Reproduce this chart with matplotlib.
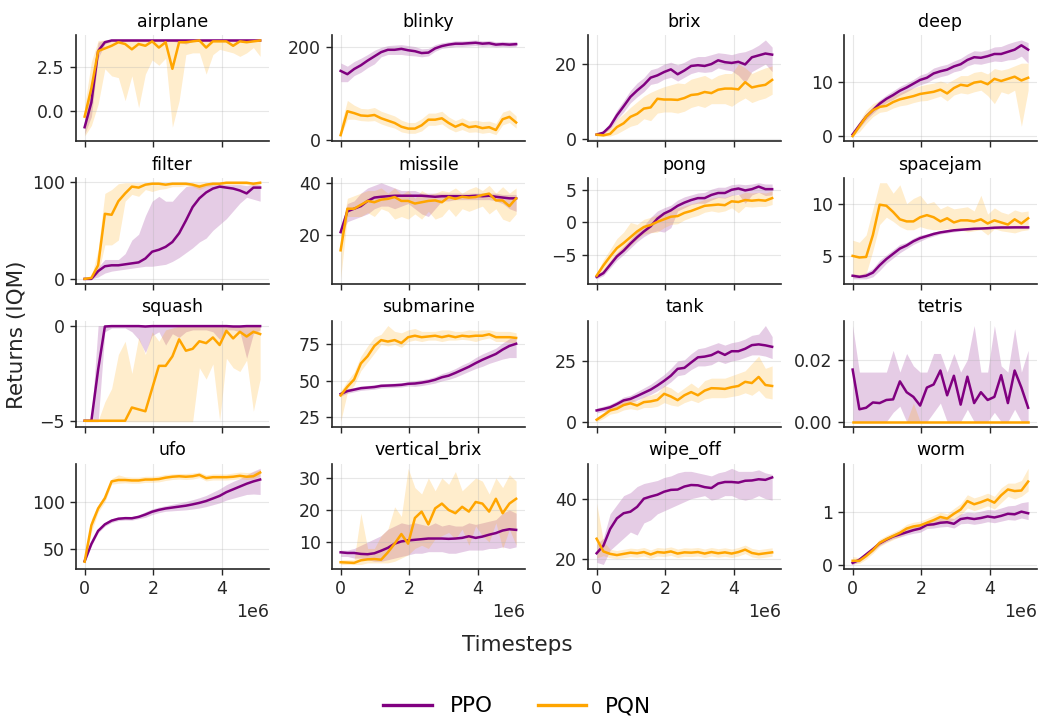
"""IQM returns of PPO vs PQN on the 16 MinAtar-style games"""
import numpy as np
import matplotlib
matplotlib.use("Agg")
import matplotlib.pyplot as plt
from matplotlib.ticker import MaxNLocator

# Evaluation points (same for every game)
timesteps = np.linspace(0, 5.12e6, 27)

games = ["airplane", "blinky", "brix", "deep",
         "filter", "missile", "pong", "spacejam",
         "squash", "submarine", "tank", "tetris",
         "ufo", "vertical_brix", "wipe_off", "worm"]

# ---- airplane
airplane_ppo = [-0.9, 0.5, 3.4, 3.9, 4.0, 4.0, 4.0, 4.0, 4.0, 4.0, 4.0, 4.0, 4.0, 4.0, 4.0, 4.0, 4.0, 4.0, 4.0, 4.0, 4.0, 4.0, 4.0, 4.0, 4.0, 4.0, 4.0]
airplane_ppo_lo = [-1.3, -0.3, 3.0, 3.8, 3.95, 3.95, 3.95, 3.95, 3.95, 3.95, 3.95, 3.95, 3.95, 3.95, 3.9, 3.8, 3.95, 3.95, 3.95, 3.95, 3.95, 3.95, 3.95, 3.95, 3.95, 3.95, 3.95]
airplane_ppo_hi = [-0.5, 1.5, 3.9, 4.02, 4.03, 4.03, 4.03, 4.03, 4.03, 4.03, 4.03, 4.03, 4.03, 4.03, 4.03, 4.03, 4.03, 4.03, 4.03, 4.03, 4.03, 4.03, 4.03, 4.03, 4.03, 4.03, 4.03]
airplane_pqn = [-0.3, 1.3, 3.4, 3.55, 3.7, 3.9, 3.8, 3.5, 3.8, 3.7, 3.95, 3.6, 3.9, 2.4, 3.9, 3.9, 3.95, 4.0, 3.6, 3.95, 3.95, 3.95, 3.7, 3.95, 3.9, 3.95, 4.0]
airplane_pqn_lo = [-1.4, -0.8, 0.4, 2.4, 2.0, 1.9, 0.6, 2.0, 0.2, 2.1, 2.9, 2.6, 3.0, -0.9, 0.6, 3.2, 3.3, 3.3, 2.1, 3.2, 3.5, 3.4, 3.3, 3.1, 3.3, 3.6, 3.1]
airplane_pqn_hi = [0.3, 2.8, 4.0, 4.02, 4.02, 4.02, 4.02, 4.02, 4.02, 4.02, 4.02, 4.02, 4.02, 4.02, 4.02, 4.02, 4.02, 4.02, 4.02, 4.02, 4.02, 4.02, 4.02, 4.02, 4.02, 4.02, 4.02]

# ---- blinky
blinky_ppo = [148, 141, 152, 160, 170, 179, 188, 193, 193, 195, 192, 190, 186, 187, 196, 201, 204, 206, 206, 207, 208, 206, 207, 204, 205, 204, 205]
blinky_ppo_lo = [125, 125, 138, 145, 155, 163, 178, 183, 183, 183, 181, 180, 178, 180, 190, 196, 198, 200, 200, 201, 202, 200, 201, 199, 200, 199, 200]
blinky_ppo_hi = [165, 158, 168, 175, 183, 192, 198, 202, 203, 204, 202, 200, 195, 196, 204, 208, 210, 212, 212, 213, 214, 212, 213, 210, 211, 210, 211]
blinky_pqn = [11, 62, 58, 53, 52, 54, 47, 42, 37, 29, 25, 25, 32, 44, 44, 47, 37, 29, 35, 28, 30, 26, 28, 22, 45, 50, 38]
blinky_pqn_lo = [9, 45, 45, 42, 41, 42, 35, 30, 26, 18, 15, 15, 20, 32, 32, 35, 25, 18, 23, 17, 18, 15, 17, 12, 33, 38, 26]
blinky_pqn_hi = [30, 85, 75, 68, 67, 70, 62, 57, 52, 43, 38, 38, 46, 58, 58, 62, 50, 42, 48, 41, 43, 40, 41, 36, 60, 65, 52]

# ---- brix
brix_ppo = [1.3, 1.8, 3.5, 6.4, 8.8, 11.3, 13.0, 14.5, 16.4, 17.0, 17.9, 18.6, 17.3, 18.3, 19.5, 19.7, 19.5, 20.0, 21.0, 20.5, 20.3, 20.6, 19.9, 21.8, 22.3, 22.8, 22.5]
brix_ppo_lo = [1.0, 1.5, 2.8, 5.3, 7.3, 9.7, 11.3, 12.7, 14.6, 15.0, 16.0, 16.5, 15.5, 16.5, 17.5, 18.0, 17.8, 18.0, 19.0, 18.5, 18.2, 17.0, 15.0, 18.0, 19.0, 20.0, 18.0]
brix_ppo_hi = [1.6, 2.3, 4.5, 7.8, 10.3, 13.0, 15.0, 16.4, 18.5, 19.0, 20.0, 20.5, 19.8, 20.5, 21.5, 22.0, 22.0, 22.5, 23.0, 22.8, 22.5, 23.0, 23.3, 24.0, 25.0, 26.4, 24.5]
brix_pqn = [1.3, 1.1, 1.5, 3.3, 4.3, 6.0, 6.8, 8.2, 8.5, 10.8, 10.6, 10.6, 10.5, 11.0, 11.8, 12.0, 12.6, 12.3, 13.2, 13.5, 13.5, 13.3, 15.2, 13.8, 14.2, 14.5, 15.8]
brix_pqn_lo = [0.9, 0.9, 0.9, 1.5, 2.5, 3.5, 4.0, 5.5, 5.0, 7.0, 7.3, 7.3, 7.0, 7.5, 8.5, 9.0, 8.5, 9.5, 9.5, 9.5, 8.8, 10.0, 11.0, 9.8, 10.5, 11.0, 12.0]
brix_pqn_hi = [1.8, 2.3, 3.0, 5.3, 6.8, 8.5, 10.0, 11.5, 12.5, 13.3, 14.0, 14.5, 15.0, 14.8, 16.0, 16.5, 17.0, 16.0, 17.0, 17.5, 17.5, 20.0, 19.0, 17.5, 18.3, 19.0, 19.5]

# ---- deep
deep_ppo = [0.3, 2.0, 3.6, 4.8, 6.0, 6.9, 7.6, 8.4, 9.0, 9.7, 10.4, 10.8, 11.6, 12.0, 12.3, 12.9, 13.3, 14.1, 14.6, 14.5, 14.8, 15.2, 15.2, 15.6, 16.0, 16.8, 16.0]
deep_ppo_lo = [0.1, 1.5, 3.0, 4.2, 5.3, 6.2, 6.8, 7.6, 8.2, 8.9, 9.5, 9.9, 10.6, 11.0, 11.3, 11.9, 12.2, 13.0, 13.4, 13.3, 13.6, 13.9, 13.8, 14.1, 14.2, 14.8, 13.5]
deep_ppo_hi = [0.7, 2.5, 4.2, 5.4, 6.7, 7.6, 8.4, 9.2, 9.8, 10.5, 11.3, 11.7, 12.6, 13.0, 13.3, 13.9, 14.4, 15.2, 15.8, 15.7, 16.0, 16.5, 16.6, 17.1, 17.5, 17.8, 17.3]
deep_pqn = [0.0, 1.8, 3.6, 4.8, 5.4, 5.6, 6.3, 6.8, 7.1, 7.4, 7.8, 8.0, 8.2, 8.6, 7.9, 8.9, 9.5, 9.3, 9.9, 10.1, 9.6, 10.6, 10.2, 10.6, 11.0, 10.3, 10.8]
deep_pqn_lo = [0.0, 0.8, 2.3, 3.6, 4.4, 4.6, 5.2, 5.6, 5.8, 6.2, 6.5, 6.6, 7.0, 7.4, 6.5, 7.6, 8.0, 7.8, 8.2, 8.5, 7.5, 6.0, 8.2, 7.8, 8.5, 1.8, 8.5]
deep_pqn_hi = [0.6, 2.8, 4.8, 6.0, 6.6, 6.8, 7.5, 8.0, 8.6, 8.9, 9.3, 9.6, 9.8, 10.2, 9.8, 10.5, 11.2, 11.2, 11.8, 12.0, 11.5, 12.5, 12.2, 12.5, 13.0, 13.5, 13.5]

# ---- filter
filter_ppo = [0, 0, 8, 13, 14, 14, 15, 16, 17, 21, 28, 30, 33, 38, 47, 60, 74, 83, 89, 93, 95, 94, 93, 91, 88, 94, 94]
filter_ppo_lo = [0, 0, 2, 6, 8, 9, 10, 11, 12, 13, 13, 14, 15, 18, 22, 27, 32, 38, 42, 50, 56, 62, 70, 78, 84, 82, 80]
filter_ppo_hi = [1, 2, 12, 20, 20, 20, 26, 40, 46, 65, 80, 85, 80, 80, 88, 95, 96, 97, 97, 97, 97, 97, 97, 97, 96, 97, 97]
filter_pqn = [0, 1, 14, 67, 66, 80, 88, 95, 94, 97, 98, 98, 97, 98, 98, 98, 97, 95, 97, 98, 98, 99, 99, 99, 99, 98, 99]
filter_pqn_lo = [0, 0, 5, 35, 35, 40, 80, 87, 85, 92, 90, 92, 93, 95, 95, 96, 95, 92, 95, 96, 96, 97, 97, 97, 97, 96, 97]
filter_pqn_hi = [1, 2, 30, 88, 92, 98, 99, 99, 99, 99, 99, 99, 99, 99, 99, 99, 99, 99, 99, 99, 99, 99, 99, 99, 99, 99, 99]

# ---- missile
missile_ppo = [21, 29, 30, 31, 33, 34.3, 34.6, 34.8, 35, 35, 35, 35, 35, 34.8, 34.6, 34.8, 34.8, 34.8, 34.8, 34.8, 35, 34.8, 35, 34.6, 34.3, 34, 34]
missile_ppo_lo = [20, 25, 26, 27, 28, 30, 31, 31, 30, 31, 32, 30, 28, 27, 30, 33, 33, 33.5, 33.5, 33.5, 33.5, 33.5, 33.5, 33, 32, 30, 29]
missile_ppo_hi = [23, 32, 33, 36, 38, 39, 40, 39, 38, 37, 37, 37, 36, 36, 36, 36, 36, 36, 36, 36, 36, 36, 36, 36, 35.5, 35.5, 35.5]
missile_pqn = [14, 30, 30, 31.5, 33, 32.5, 33.5, 33.8, 34.5, 33, 33, 32, 32.5, 33, 33.2, 32.5, 34.5, 33.8, 34.6, 34.3, 34.5, 35.3, 35.8, 33.2, 33.2, 31, 34]
missile_pqn_lo = [3, 27, 27, 27, 28.5, 27, 30, 29, 26, 27, 26, 28, 26, 29, 26, 27, 30, 27, 30, 29, 30, 31, 28, 30, 26, 25, 28]
missile_pqn_hi = [20, 34, 35, 36, 37, 37, 38, 36, 38, 35.5, 37, 34, 37, 35.5, 36, 37, 36.5, 38, 36, 37.5, 38.5, 37, 39, 36, 38.5, 36, 38]

# ---- pong
pong_ppo = [-8.5, -7.9, -6.6, -5.3, -4.4, -3.3, -2.3, -1.4, -0.6, 0.6, 1.4, 1.9, 2.6, 3.1, 3.5, 3.8, 3.8, 4.3, 4.6, 4.6, 5.1, 5.3, 5.0, 5.2, 5.6, 5.2, 5.2]
pong_ppo_lo = [-8.8, -8.3, -7.1, -5.9, -5.0, -4.0, -3.0, -2.2, -1.6, -1.3, -1.5, -0.8, 1.8, 2.3, 2.8, 3.0, 3.0, 3.5, 3.9, 3.8, 4.2, 4.4, 3.0, 4.3, 4.7, 4.2, 4.3]
pong_ppo_hi = [-8.2, -7.4, -6.0, -4.7, -3.7, -2.6, -1.5, -0.5, 0.8, 1.8, 2.3, 2.7, 3.5, 4.0, 4.3, 4.6, 4.7, 5.2, 5.5, 5.5, 5.9, 6.0, 5.9, 6.0, 6.2, 6.0, 6.0]
pong_pqn = [-8.3, -6.7, -5.3, -4.0, -3.2, -2.3, -1.4, -0.7, -0.4, 0.1, 0.5, 0.9, 1.0, 1.5, 1.8, 2.2, 2.6, 2.7, 2.8, 2.7, 3.3, 3.2, 3.5, 3.4, 3.5, 3.4, 3.8]
pong_pqn_lo = [-8.7, -7.5, -6.3, -5.3, -4.5, -3.6, -2.6, -1.8, -1.6, -1.5, -0.8, -0.3, -0.2, 0.4, 0.8, 1.1, 1.6, 1.8, 1.6, 1.8, 2.3, 1.5, 2.5, 2.4, 2.5, 2.5, 2.8]
pong_pqn_hi = [-7.9, -5.8, -4.2, -2.5, -1.5, 0.0, -0.3, 0.5, 0.8, 1.2, 1.5, 2.0, 2.3, 2.6, 2.9, 3.2, 3.6, 3.8, 4.0, 3.9, 4.3, 4.3, 4.7, 4.6, 4.7, 4.6, 4.9]

# ---- spacejam
spacejam_ppo = [3.1, 3.0, 3.1, 3.4, 4.1, 4.7, 5.2, 5.7, 6.0, 6.4, 6.7, 6.9, 7.1, 7.25, 7.35, 7.45, 7.5, 7.55, 7.6, 7.62, 7.65, 7.7, 7.72, 7.72, 7.73, 7.73, 7.73]
spacejam_ppo_lo = [2.8, 2.8, 2.8, 3.0, 3.6, 4.3, 4.8, 5.3, 5.7, 6.1, 6.4, 6.7, 6.9, 7.1, 7.2, 7.3, 7.4, 7.45, 7.5, 7.55, 7.6, 7.6, 7.65, 7.65, 7.65, 7.65, 7.65]
spacejam_ppo_hi = [3.3, 3.2, 3.4, 3.8, 4.6, 5.1, 5.6, 6.1, 6.3, 6.7, 7.0, 7.1, 7.3, 7.4, 7.5, 7.6, 7.6, 7.65, 7.7, 7.7, 7.72, 7.78, 7.8, 7.8, 7.8, 7.8, 7.8]
spacejam_pqn = [5.0, 4.85, 4.9, 7.0, 9.9, 9.8, 9.2, 8.5, 8.3, 8.3, 8.7, 8.9, 8.7, 8.3, 8.6, 8.2, 8.4, 8.4, 8.3, 8.5, 8.1, 8.4, 8.2, 8.0, 8.5, 8.1, 8.6]
spacejam_pqn_lo = [3.0, 3.0, 3.3, 5.5, 8.0, 8.7, 8.3, 7.8, 7.5, 7.5, 7.8, 7.6, 7.5, 7.5, 7.6, 7.4, 7.5, 7.3, 7.4, 7.5, 7.0, 7.6, 7.4, 7.3, 7.2, 7.4, 7.5]
spacejam_pqn_hi = [6.5, 6.3, 7.0, 9.5, 12.0, 12.0, 11.0, 11.8, 10.0, 10.5, 10.8, 10.0, 10.2, 9.5, 9.8, 9.5, 9.6, 9.7, 9.3, 10.8, 9.0, 9.6, 9.2, 9.0, 9.4, 9.2, 9.3]

# ---- squash
squash_ppo = [-5, -5, -2.3, -0.02, 0, 0, 0, 0, 0, -0.02, 0, 0, 0, 0, 0, 0, 0, 0, 0, 0, 0, 0, -0.02, -0.02, 0, 0, 0]
squash_ppo_lo = [-5.05, -5.05, -5.05, -0.3, -0.1, -0.1, -0.1, -0.3, -0.7, -1.4, -0.5, -0.3, -1.0, -0.4, -0.6, -0.3, -0.2, -0.2, -0.2, -0.3, -0.7, -0.2, -0.2, -0.3, -1.7, -0.4, -0.2]
squash_ppo_hi = [-4.95, -4.95, 0.03, 0.03, 0.03, 0.03, 0.03, 0.03, 0.03, 0.03, 0.03, 0.03, 0.03, 0.03, 0.03, 0.03, 0.03, 0.03, 0.03, 0.03, 0.03, 0.03, 0.03, 0.03, 0.03, 0.03, 0.03]
squash_pqn = [-5, -5, -5, -5, -5, -5, -5, -4.3, -4.4, -4.5, -3.3, -2.1, -2.1, -1.6, -0.7, -1.3, -1.2, -0.8, -0.9, -0.6, -1.0, -0.25, -0.65, -0.3, -0.55, -0.3, -0.42]
squash_pqn_lo = [-5.05, -5.05, -5.05, -5.05, -5.05, -5.05, -5.05, -5.05, -5.05, -5.05, -5.05, -5.05, -5.05, -5.05, -5.05, -5.05, -5.05, -2.2, -2.8, -2.0, -5.0, -1.7, -2.2, -2.4, -1.8, -4.5, -2.8]
squash_pqn_hi = [-5, -5, -5, -4.0, -3.3, -1.5, -0.8, -2.5, -0.6, -1.5, -0.3, -0.8, -0.2, -0.1, 0, 0, 0, 0, 0, 0, 0, 0, 0, 0, 0, 0, 0]

# ---- submarine
submarine_ppo = [41, 43, 44, 45, 45.4, 45.8, 46.6, 46.8, 47, 47.3, 48, 48.2, 48.8, 49.6, 50.8, 52.5, 53.6, 55.5, 57.6, 59.7, 62.2, 64.5, 66.5, 68.5, 71.5, 74, 75.5]
submarine_ppo_lo = [39.5, 41.5, 42.5, 43.5, 43.9, 44.3, 45.1, 45.3, 45.5, 45.8, 46.5, 46.2, 46.8, 47.6, 48.5, 50, 51, 52.5, 54.5, 56.5, 58.5, 60, 62, 63.5, 65, 66, 66]
submarine_ppo_hi = [42.5, 44.5, 45.5, 46.5, 46.9, 47.3, 48.1, 48.3, 48.5, 48.8, 49.5, 50.2, 50.8, 51.6, 53, 55, 56.5, 58.5, 61, 63, 66, 68.5, 70.5, 72.5, 76, 79, 80]
submarine_pqn = [40, 46, 51, 62, 67, 74, 78, 77, 78, 76, 80, 81, 80, 80.5, 81, 80, 81, 80, 81, 80.5, 81, 81, 82, 80, 80, 80, 79.5]
submarine_pqn_lo = [22, 42, 47, 57, 63, 69, 75, 74, 75, 73, 77, 78, 77, 78, 78, 77, 78, 78, 78.5, 78, 77, 78.5, 79.5, 77, 77, 76.5, 76]
submarine_pqn_hi = [43, 50, 56, 67, 74, 80, 82, 88, 84, 83, 85, 86, 84, 84, 84, 85, 85, 84, 84, 85, 84.5, 85, 85, 84, 84, 84, 83]

# ---- tank
tank_ppo = [4.8, 5.4, 6.1, 7.4, 8.9, 9.5, 10.7, 12.0, 13.3, 15.0, 16.9, 19.0, 21.8, 22.2, 24.4, 26.5, 26.8, 27.4, 28.8, 27.5, 29.0, 29.0, 30.0, 31.5, 31.8, 31.4, 30.8]
tank_ppo_lo = [3.8, 4.4, 5.0, 6.2, 7.5, 8.0, 9.0, 10.2, 11.3, 12.8, 14.5, 16.5, 19.0, 19.5, 21.5, 23.0, 23.0, 23.5, 25.0, 24.0, 25.0, 25.5, 26.5, 27.5, 27.5, 27.0, 26.0]
tank_ppo_hi = [5.8, 6.5, 7.3, 8.7, 10.3, 11.0, 12.5, 14.0, 15.5, 17.5, 19.5, 22.0, 25.0, 25.5, 28.0, 30.0, 30.5, 31.5, 32.5, 31.5, 32.5, 33.0, 34.0, 35.5, 36.0, 39.5, 35.0]
tank_pqn = [1.0, 2.8, 4.8, 5.5, 7.0, 7.7, 6.8, 8.2, 8.5, 9.1, 11.6, 10.5, 9.0, 11.0, 12.3, 11.0, 12.9, 13.9, 13.8, 13.6, 14.3, 14.8, 16.5, 16.0, 18.5, 15.2, 14.8]
tank_pqn_lo = [0.2, 1.5, 3.3, 3.8, 5.0, 5.5, 5.0, 6.0, 6.0, 6.5, 8.0, 7.0, 6.5, 8.0, 9.0, 8.0, 9.5, 10.0, 10.0, 10.0, 10.5, 11.0, 12.0, 11.0, 13.0, 10.0, 9.5]
tank_pqn_hi = [2.0, 4.0, 6.3, 7.0, 9.0, 10.0, 8.5, 10.5, 11.0, 12.0, 15.0, 14.0, 12.0, 14.0, 16.0, 14.0, 17.0, 18.0, 18.0, 18.0, 19.0, 20.0, 21.0, 24.0, 27.0, 22.0, 23.0]

# ---- tetris
tetris_ppo = [0.0168, 0.0040, 0.0045, 0.0062, 0.0060, 0.0070, 0.0072, 0.0130, 0.0095, 0.0080, 0.0052, 0.0110, 0.0120, 0.0165, 0.0085, 0.0148, 0.0055, 0.0145, 0.0060, 0.0095, 0.0070, 0.0080, 0.0150, 0.0060, 0.0165, 0.0110, 0.0045]
tetris_ppo_lo = [0, 0, 0, 0, 0, 0, 0.003, 0.005, 0, 0, 0, 0, 0.003, 0.006, 0, 0, 0, 0.004, 0, 0, 0, 0.003, 0, 0, 0.004, 0, 0]
tetris_ppo_hi = [0.031, 0.016, 0.016, 0.016, 0.016, 0.016, 0.023, 0.016, 0.022, 0.018, 0.016, 0.016, 0.022, 0.022, 0.016, 0.022, 0.016, 0.020, 0.031, 0.016, 0.016, 0.031, 0.018, 0.016, 0.030, 0.016, 0.023]
tetris_pqn = [0.0] * 27
tetris_pqn_lo = [0.0] * 27
tetris_pqn_hi = [0, 0, 0, 0, 0, 0, 0, 0, 0, 0.006, 0, 0, 0, 0, 0, 0, 0, 0, 0, 0, 0, 0, 0, 0, 0, 0, 0]

# ---- ufo
ufo_ppo = [36.6, 55, 69, 76, 80, 82, 82.6, 82.5, 84, 86.5, 89.5, 91.5, 93, 94, 95, 96, 97.4, 99, 101, 103.7, 106.5, 110.5, 113.5, 116.5, 119.5, 122, 124]
ufo_ppo_lo = [34.6, 53, 67, 74, 78, 80, 80.6, 80.5, 82, 83.5, 86.5, 88.5, 90, 90.5, 91, 91.5, 92.4, 93.5, 95, 97, 99, 102, 104, 106, 108, 108.5, 108]
ufo_ppo_hi = [38.6, 57, 71, 78, 82, 84, 84.6, 84.5, 86, 89.5, 92.5, 94.5, 96, 97.5, 99, 100.5, 102.4, 104.5, 107, 110.5, 114, 118.5, 122, 125, 129, 133, 136]
ufo_pqn = [36, 75, 93, 104, 122, 123.5, 123.5, 123, 123, 124, 124, 124.5, 126, 127, 127.5, 127, 127.5, 129, 125.5, 126.5, 126.5, 126.5, 127, 128, 127, 127.5, 131.5]
ufo_pqn_lo = [33, 68, 89, 100, 119, 120, 120.5, 120, 120, 121, 121, 121.5, 123, 124, 124.5, 124, 124.5, 126, 122.5, 123.5, 123.5, 123.5, 124, 125, 124, 124.5, 128]
ufo_pqn_hi = [40, 82, 97, 108, 125, 129, 127, 126.5, 126.5, 127.5, 127.5, 128, 129.5, 130, 130.5, 130.5, 131, 132, 129, 130, 130, 130, 131, 132, 131.5, 132, 135]

# ---- vertical_brix
vertical_brix_ppo = [6.8, 6.6, 6.6, 6.3, 6.2, 6.5, 7.3, 8.2, 9.5, 10.2, 10.5, 10.7, 10.9, 11.1, 11.1, 11.1, 11.0, 11.1, 11.3, 11.8, 11.3, 11.7, 12.3, 12.8, 13.6, 14.0, 13.8]
vertical_brix_ppo_lo = [5.5, 5.5, 5.0, 5.0, 4.5, 4.0, 4.0, 4.5, 5.0, 5.5, 6.0, 6.5, 6.5, 7.0, 7.0, 7.0, 6.5, 6.5, 7.0, 7.5, 7.5, 7.5, 8.0, 8.0, 8.5, 8.0, 8.5]
vertical_brix_ppo_hi = [7.5, 7.5, 8.0, 9.0, 10.0, 11.0, 12.0, 14.0, 15.0, 16.0, 15.5, 16.0, 15.5, 15.0, 16.0, 15.0, 15.5, 15.0, 15.0, 16.0, 15.5, 16.0, 16.5, 17.0, 19.0, 20.0, 19.0]
vertical_brix_pqn = [3.7, 3.6, 3.5, 4.3, 4.6, 4.7, 4.5, 6.8, 9.5, 12.5, 9.5, 17.5, 19.5, 15.5, 20.5, 22.0, 20.0, 19.0, 21.0, 19.5, 22.5, 22.0, 19.5, 23.5, 19.0, 22.0, 23.5]
vertical_brix_pqn_lo = [3.0, 3.0, 3.0, 3.0, 3.5, 3.5, 3.5, 3.5, 4.0, 5.0, 6.0, 8.0, 9.0, 8.0, 11.0, 12.0, 13.0, 11.0, 14.0, 9.0, 15.0, 12.0, 10.0, 16.0, 8.0, 14.0, 9.0]
vertical_brix_pqn_hi = [4.5, 4.5, 4.5, 19.0, 8.0, 8.0, 12.0, 14.0, 21.0, 18.0, 33.0, 27.0, 25.0, 30.0, 26.0, 30.0, 28.0, 32.0, 26.0, 28.0, 30.0, 29.0, 25.0, 30.0, 27.0, 31.0, 29.0]

# ---- wipe_off
wipe_off_ppo = [22, 24.5, 30, 33.5, 35.2, 35.7, 37.3, 40, 40.7, 41.3, 42.3, 42.9, 43, 44, 44.5, 44.4, 43.8, 43.5, 45, 45.5, 45.5, 45.3, 45.9, 46, 46.4, 46.2, 47]
wipe_off_ppo_lo = [19, 18.3, 23, 25, 27, 29, 28, 32, 33, 35, 36, 37, 38, 39, 40, 40.5, 41, 39.5, 40, 41, 41, 40, 39.5, 40, 41, 40, 39.5]
wipe_off_ppo_hi = [25, 27, 35, 38, 41, 42, 44, 45, 45.5, 46, 47, 47.5, 48.5, 49, 49, 48.5, 48, 47.5, 48.5, 49, 50, 49, 49, 49, 49.5, 48.5, 48]
wipe_off_pqn = [26.8, 22.6, 21.8, 21.4, 21.8, 22.2, 22.0, 22.4, 21.6, 22.4, 22.2, 22.6, 21.9, 22.3, 22.2, 22.4, 21.9, 22.4, 22.0, 22.3, 21.9, 22.4, 23.2, 22.1, 21.7, 22.0, 22.3]
wipe_off_pqn_lo = [20.5, 21.2, 20.5, 20.2, 20.5, 20.9, 20.7, 21.1, 20.3, 21.1, 20.9, 21.3, 20.6, 21.0, 20.9, 21.1, 20.6, 21.1, 20.7, 21.0, 20.6, 21.1, 21.9, 20.8, 20.4, 20.7, 21.0]
wipe_off_pqn_hi = [38.5, 26.0, 23.3, 22.9, 23.3, 23.7, 23.5, 23.9, 23.1, 23.9, 23.7, 24.1, 23.4, 23.8, 23.7, 23.9, 23.4, 23.9, 23.5, 23.8, 23.4, 23.9, 24.7, 23.6, 23.2, 23.5, 23.8]

# ---- worm
worm_ppo = [0.04, 0.10, 0.20, 0.30, 0.41, 0.48, 0.54, 0.58, 0.62, 0.66, 0.69, 0.76, 0.77, 0.80, 0.81, 0.78, 0.87, 0.89, 0.87, 0.89, 0.92, 0.90, 0.93, 0.97, 0.96, 1.01, 0.98]
worm_ppo_lo = [0.01, 0.06, 0.16, 0.26, 0.37, 0.44, 0.50, 0.53, 0.57, 0.60, 0.62, 0.69, 0.70, 0.72, 0.73, 0.70, 0.78, 0.79, 0.77, 0.79, 0.82, 0.80, 0.83, 0.86, 0.85, 0.89, 0.86]
worm_ppo_hi = [0.07, 0.14, 0.25, 0.35, 0.46, 0.53, 0.59, 0.64, 0.68, 0.72, 0.76, 0.83, 0.85, 0.89, 0.90, 0.88, 0.97, 1.00, 0.99, 1.02, 1.05, 1.04, 1.08, 1.12, 1.13, 1.18, 1.20]
worm_pqn = [0.08, 0.08, 0.17, 0.28, 0.42, 0.49, 0.55, 0.61, 0.69, 0.73, 0.75, 0.80, 0.85, 0.91, 0.88, 0.97, 1.05, 1.21, 1.15, 1.19, 1.24, 1.18, 1.32, 1.43, 1.40, 1.41, 1.58]
worm_pqn_lo = [0.02, 0.03, 0.11, 0.22, 0.35, 0.42, 0.48, 0.54, 0.61, 0.65, 0.67, 0.72, 0.76, 0.82, 0.79, 0.87, 0.95, 1.08, 1.03, 1.07, 1.12, 1.06, 1.18, 1.30, 1.25, 1.30, 1.40]
worm_pqn_hi = [0.16, 0.14, 0.23, 0.34, 0.49, 0.56, 0.62, 0.68, 0.77, 0.81, 0.83, 0.88, 0.94, 1.00, 0.97, 1.07, 1.16, 1.33, 1.27, 1.31, 1.36, 1.30, 1.46, 1.55, 1.55, 1.60, 1.83]

# (ppo mean, lo, hi, pqn mean, lo, hi) per game, same order as `games`
curves = [
    (airplane_ppo, airplane_ppo_lo, airplane_ppo_hi, airplane_pqn, airplane_pqn_lo, airplane_pqn_hi),
    (blinky_ppo, blinky_ppo_lo, blinky_ppo_hi, blinky_pqn, blinky_pqn_lo, blinky_pqn_hi),
    (brix_ppo, brix_ppo_lo, brix_ppo_hi, brix_pqn, brix_pqn_lo, brix_pqn_hi),
    (deep_ppo, deep_ppo_lo, deep_ppo_hi, deep_pqn, deep_pqn_lo, deep_pqn_hi),
    (filter_ppo, filter_ppo_lo, filter_ppo_hi, filter_pqn, filter_pqn_lo, filter_pqn_hi),
    (missile_ppo, missile_ppo_lo, missile_ppo_hi, missile_pqn, missile_pqn_lo, missile_pqn_hi),
    (pong_ppo, pong_ppo_lo, pong_ppo_hi, pong_pqn, pong_pqn_lo, pong_pqn_hi),
    (spacejam_ppo, spacejam_ppo_lo, spacejam_ppo_hi, spacejam_pqn, spacejam_pqn_lo, spacejam_pqn_hi),
    (squash_ppo, squash_ppo_lo, squash_ppo_hi, squash_pqn, squash_pqn_lo, squash_pqn_hi),
    (submarine_ppo, submarine_ppo_lo, submarine_ppo_hi, submarine_pqn, submarine_pqn_lo, submarine_pqn_hi),
    (tank_ppo, tank_ppo_lo, tank_ppo_hi, tank_pqn, tank_pqn_lo, tank_pqn_hi),
    (tetris_ppo, tetris_ppo_lo, tetris_ppo_hi, tetris_pqn, tetris_pqn_lo, tetris_pqn_hi),
    (ufo_ppo, ufo_ppo_lo, ufo_ppo_hi, ufo_pqn, ufo_pqn_lo, ufo_pqn_hi),
    (vertical_brix_ppo, vertical_brix_ppo_lo, vertical_brix_ppo_hi, vertical_brix_pqn, vertical_brix_pqn_lo, vertical_brix_pqn_hi),
    (wipe_off_ppo, wipe_off_ppo_lo, wipe_off_ppo_hi, wipe_off_pqn, wipe_off_pqn_lo, wipe_off_pqn_hi),
    (worm_ppo, worm_ppo_lo, worm_ppo_hi, worm_pqn, worm_pqn_lo, worm_pqn_hi),
]

PPO_COLOR = "purple"
PQN_COLOR = "orange"

plt.rcParams["font.family"] = ["DejaVu Sans"]
plt.rcParams["xtick.labelsize"] = 12.5
plt.rcParams["ytick.labelsize"] = 12.5

fig, axes = plt.subplots(4, 4, sharex=True, figsize=(10.39, 7.17), dpi=100)
fig.subplots_adjust(left=0.073, right=0.998, top=0.951, bottom=0.206,
                    wspace=0.326, hspace=0.35)

for ax, name, (ppo, ppo_lo, ppo_hi, pqn, pqn_lo, pqn_hi) in zip(axes.flat, games, curves):
    ax.fill_between(timesteps, ppo_lo, ppo_hi, color=PPO_COLOR, alpha=0.2, linewidth=0)
    ax.fill_between(timesteps, pqn_lo, pqn_hi, color=PQN_COLOR, alpha=0.2, linewidth=0)
    ax.plot(timesteps, ppo, color=PPO_COLOR, linewidth=1.8, label="PPO")
    ax.plot(timesteps, pqn, color=PQN_COLOR, linewidth=1.8, label="PQN")
    ax.set_title(name, fontsize=12.5)
    # only a couple of y ticks per panel, like the original
    ax.yaxis.set_major_locator(MaxNLocator(nbins=2, steps=[1, 2, 2.5, 5, 10]))
    ax.grid(True, color="#b0b0b0", alpha=0.3, linewidth=0.8)
    ax.spines["top"].set_visible(False)
    ax.spines["right"].set_visible(False)
    for s in ("left", "bottom"):
        ax.spines[s].set_linewidth(1.2)
        ax.spines[s].set_color("#262626")
    ax.tick_params(length=4.5, width=1.0, color="#262626", labelcolor="#262626")

fig.text(0.016, 0.533, "Returns (IQM)", rotation=90, ha="center", va="center",
         fontsize=15.5, color="#262626")
fig.text(0.4976, 0.100, "Timesteps", ha="center", va="center",
         fontsize=15.5, color="#262626")

handles, labels = axes[0, 0].get_legend_handles_labels()
leg = fig.legend(handles, labels, loc="center", bbox_to_anchor=(0.4976, 0.015),
                 ncol=2, frameon=False, fontsize=15.5, handlelength=2.25,
                 handletextpad=0.85, columnspacing=2.1)
for line in leg.get_lines():
    line.set_linewidth(2.4)

fig.savefig("out.png", dpi=100)
